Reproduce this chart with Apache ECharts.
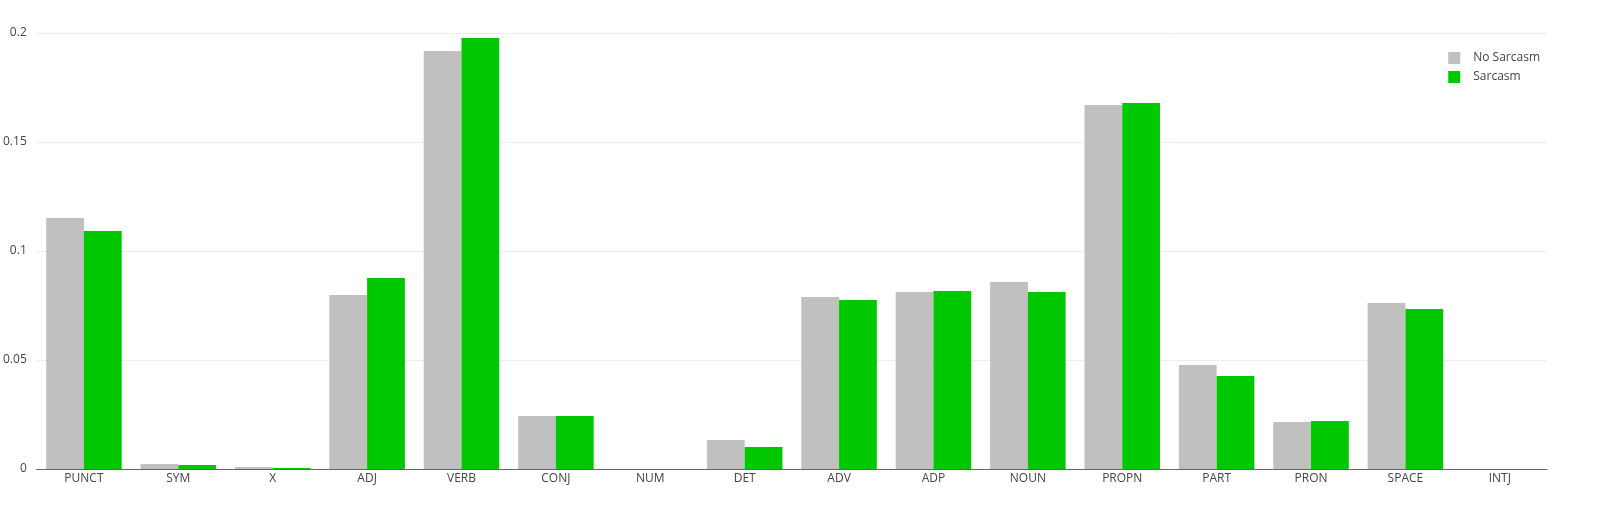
<!DOCTYPE html>
<html>
<head>
<meta charset="utf-8">
<script src="https://cdn.jsdelivr.net/npm/echarts@6/dist/echarts.min.js"></script>
<style>
  body { margin: 0; padding: 0; background: #fff; }
  #main { width: 1623px; height: 515px; }
</style>
</head>
<body>
<div id="main"></div>
<script>
var categories = ['PUNCT', 'SYM', 'X', 'ADJ', 'VERB', 'CONJ', 'NUM', 'DET', 'ADV', 'ADP', 'NOUN', 'PROPN', 'PART', 'PRON', 'SPACE', 'INTJ'];
var noSarcasm = [0.1151, 0.0023, 0.0009, 0.0798, 0.1917, 0.0243, 0, 0.0133, 0.0789, 0.0812, 0.0858, 0.167, 0.0477, 0.0216, 0.0761, 0];
var sarcasm = [0.1092, 0.0018, 0.0005, 0.0876, 0.1977, 0.0243, 0, 0.0101, 0.0775, 0.0817, 0.0812, 0.1679, 0.0427, 0.022, 0.0734, 0];

var myChart = echarts.init(document.getElementById('main'));
var option = {
  animation: false,
  textStyle: { fontFamily: 'Open Sans', color: '#444' },
  grid: { left: 34, right: 76, top: 33, bottom: 46 },
  legend: {
    orient: 'vertical',
    right: 78,
    top: 47,
    itemWidth: 12,
    itemHeight: 12,
    itemGap: 7,
    icon: 'rect',
    textStyle: { fontSize: 12, color: '#444', padding: [0, 0, 0, 8] },
    data: ['No Sarcasm', 'Sarcasm']
  },
  xAxis: {
    type: 'category',
    data: categories,
    axisTick: { show: false },
    axisLine: { lineStyle: { color: '#666', width: 1 } },
    axisLabel: { fontSize: 12, color: '#444', margin: 4 }
  },
  yAxis: {
    type: 'value',
    min: 0,
    max: 0.2,
    interval: 0.05,
    axisLabel: {
      fontSize: 12, color: '#444', margin: 10,
      formatter: function (v) { return v === 0 ? '0' : String(+v.toFixed(2)); }
    },
    splitLine: { lineStyle: { color: '#eee' } },
    axisLine: { show: false },
    axisTick: { show: false }
  },
  series: [
    { name: 'No Sarcasm', type: 'bar', data: noSarcasm, barGap: '0%', barCategoryGap: '20%', itemStyle: { color: '#c0c0c0' } },
    { name: 'Sarcasm', type: 'bar', data: sarcasm, barGap: '0%', barCategoryGap: '20%', itemStyle: { color: '#00c800' } }
  ]
};
myChart.setOption(option);
</script>
</body>
</html>
